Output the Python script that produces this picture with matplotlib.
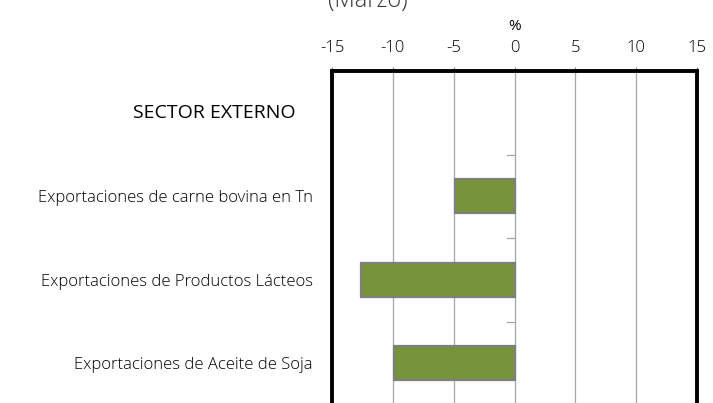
import matplotlib.pyplot as plt

categorias = ["SECTOR EXTERNO",
              "Exportaciones de carne bovina en Tn",
              "Exportaciones de Productos Lácteos",
              "Exportaciones de Aceite de Soja"]
variacion = [None, -4.9, -12.6, -9.9]  # % interanual (marzo)
xticks = [-15, -10, -5, 0, 5, 10, 15]

plt.rcParams['font.family'] = ['Open Sans', 'DejaVu Sans']
plt.rcParams['font.weight'] = 'light'
plt.rcParams['axes.unicode_minus'] = False

fig = plt.figure(figsize=(7.13, 4.03), dpi=100)
ax = fig.add_axes([332/713, -2/403, 365/713, 334/403])

n = len(categorias)
pos = list(range(n))
for i, v in enumerate(variacion):
    if v is not None:
        ax.barh(pos[i], v, height=0.41, color="#77933C", edgecolor="#7f7f7f", linewidth=1.6, zorder=3)

ax.set_xlim(-15, 15)
ax.set_ylim(n - 0.5, -0.5)
ax.set_xticks(xticks)
ax.xaxis.tick_top()
ax.xaxis.set_label_position("top")
ax.set_xlabel("%", fontsize=11, labelpad=7)
ax.tick_params(axis="x", length=3, color="#808080", labelsize=12, pad=8)
ax.grid(axis="x", color="#a6a6a6", linewidth=0.9, zorder=0)

# section header is drawn apart, it sits a bit left of the other labels
ax.set_yticks(pos)
ax.set_yticklabels([""] + categorias[1:])
ax.tick_params(axis="y", length=0, pad=14, labelsize=12)
ax.text(-0.101, pos[0], categorias[0], transform=ax.get_yaxis_transform(),
        ha="right", va="center", fontsize=14, fontweight="normal")

# small marks on the zero line between categories
for b in range(1, n):
    ax.plot([-0.6, 0], [b - 0.5, b - 0.5], color="#a6a6a6", linewidth=0.9, zorder=2)

for s in ["left", "right", "top"]:
    ax.spines[s].set_linewidth(2.8)
    ax.spines[s].set_color("black")
ax.spines["bottom"].set_visible(False)

fig.text(368/713, 1 - 1/403, "(Marzo)", ha="center", va="center", fontsize=17, color="#333333")

fig.savefig("out.png", dpi=100)
